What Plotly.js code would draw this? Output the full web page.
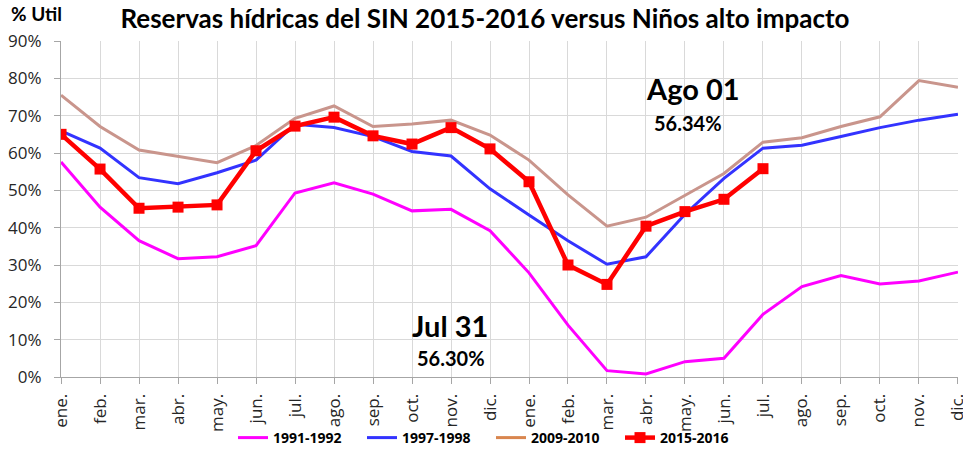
<!DOCTYPE html>
<html>
<head>
<meta charset="utf-8">
<script src="https://cdn.plot.ly/plotly-3.0.1.min.js"></script>
<style>html,body{margin:0;padding:0;background:#fff;}#chart{width:963px;height:451px;}</style>
</head>
<body>
<div id="chart"></div>
<script>
const months = ["ene.","feb.","mar.","abr.","may.","jun.","jul.","ago.","sep.","oct.","nov.","dic.",
                "ene.","feb.","mar.","abr.","may.","jun.","jul.","ago.","sep.","oct.","nov.","dic."];
const s1991 = [57.6,45.5,36.5,31.7,32.2,35.2,49.3,52.0,49.0,44.5,44.9,39.2,
               27.9,13.9,1.7,0.8,4.1,5.0,16.8,24.2,27.2,24.9,25.7,28.1];
const s1997 = [65.9,61.3,53.4,51.8,54.7,58.1,67.7,66.8,64.4,60.4,59.2,50.4,
               43.4,36.5,30.2,32.2,43.6,53.2,61.3,62.1,64.4,66.8,68.8,70.4];
const s2009 = [75.5,67.1,60.8,59.0,57.4,62.0,69.3,72.6,67.1,67.8,68.8,64.8,
               58.1,48.8,40.4,42.8,48.6,54.5,62.9,64.1,67.1,69.7,79.4,77.6];
const s2015 = [65.0,55.7,45.2,45.5,46.1,60.6,67.2,69.6,64.6,62.4,66.8,61.1,
               52.3,30.0,24.8,40.4,44.3,47.6,55.8];
const yTicks = [0,10,20,30,40,50,60,70,80,90];
const idx = months.map((m,i)=>i);

const traces = [
  {x: idx, y: s1991, mode:"lines", name:"1991-1992", line:{color:"#FF00FF", width:3}},
  {x: idx, y: s1997, mode:"lines", name:"1997-1998", line:{color:"#3333FF", width:3}},
  {x: idx, y: s2009, mode:"lines", name:"2009-2010", line:{color:"#C9958C", width:3}, showlegend:false},
  {x: [null], y: [null], mode:"lines", name:"2009-2010", line:{color:"#D9864F", width:3}},
  {x: idx.slice(0, s2015.length), y: s2015, mode:"lines+markers", name:"2015-2016",
   line:{color:"#FF0000", width:4.5}, marker:{symbol:"square", size:11, color:"#FF0000"}}
];

const tickFont = {size:17, color:"#262626", family:"Open Sans"};

const layout = {
  width: 963, height: 451,
  margin: {l:61, r:5, t:41, b:74},
  paper_bgcolor:"#fff", plot_bgcolor:"#fff",
  font: {family:"Lato, 'Open Sans', sans-serif", color:"#000"},
  title: {text:"<b>Reservas hídricas del SIN 2015-2016 versus Niños alto impacto</b>",
          xref:"container", yref:"container", x:0.5036, xanchor:"center", y:1-19/451, yanchor:"middle",
          font:{size:26, color:"#000"}},
  xaxis: {
    range:[-0.001,23.001], tickvals: idx, ticktext: months, tickangle:-90,
    showgrid:true, gridcolor:"#D9D9D9", gridwidth:1,
    showline:true, linecolor:"#A6A6A6", linewidth:1,
    ticks:"outside", ticklen:6, tickcolor:"#A6A6A6", ticklabelstandoff:3,
    ticklabeloverflow:"allow",
    tickfont:tickFont, zeroline:false, fixedrange:true, automargin:false
  },
  yaxis: {
    range:[0,90], tickvals: yTicks, ticktext: yTicks.map(v=>v+"%"),
    showgrid:true, gridcolor:"#D9D9D9", gridwidth:1,
    showline:true, linecolor:"#A6A6A6", linewidth:1,
    ticks:"outside", ticklen:6, tickcolor:"#A6A6A6", ticklabelstandoff:9,
    tickfont:tickFont, zeroline:false, fixedrange:true, automargin:false
  },
  legend: {orientation:"h", xref:"container", yref:"container", x:233/963, xanchor:"left",
           y:1-438/451, yanchor:"middle", bgcolor:"rgba(0,0,0,0)",
           font:{size:14, color:"#000", family:"Open Sans", weight:"bold"},
           traceorder:"normal", itemwidth:30, entrywidth:84, entrywidthmode:"pixels"},
  showlegend:true,
  annotations: [
    {text:"<b>% Util</b>", xref:"paper", yref:"paper", x:-0.058, y:1.083, xanchor:"left", yanchor:"middle",
     showarrow:false, font:{size:19, color:"#000"}},
    {text:"<b>Ago 01</b>", xref:"x", yref:"y", x:16.2, y:77.4, showarrow:false, font:{size:29, color:"#000"}},
    {text:"<b>56.34%</b>", xref:"x", yref:"y", x:16.08, y:68.0, showarrow:false, font:{size:20, color:"#000"}},
    {text:"<b>Jul 31</b>", xref:"x", yref:"y", x:9.97, y:13.7, showarrow:false, font:{size:29, color:"#000"}},
    {text:"<b>56.30%</b>", xref:"x", yref:"y", x:9.99, y:5.1, showarrow:false, font:{size:20, color:"#000"}}
  ]
};

Plotly.newPlot("chart", traces, layout, {displayModeBar:false, staticPlot:true});
</script>
</body>
</html>
